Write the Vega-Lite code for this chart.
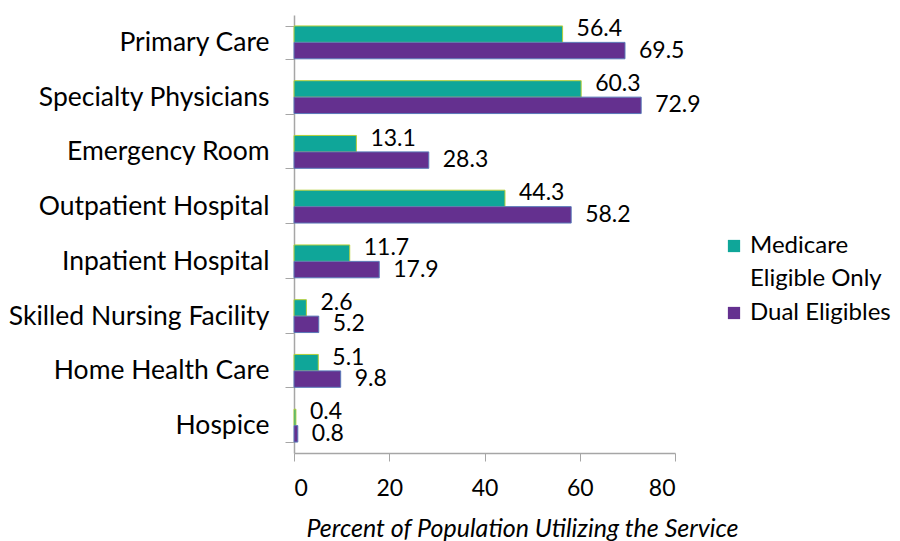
{
  "$schema": "https://vega.github.io/schema/vega-lite/v6.json",
  "autosize": {"type": "none"},
  "padding": {"left": 294, "top": 15, "right": 225, "bottom": 88},
  "width": 381,
  "height": 438,
  "background": "white",
  "config": {
    "view": {"stroke": null},
    "font": "Lato",
    "axis": {"grid": false, "domainColor": "#a6a6a6", "tickColor": "#a6a6a6", "labelColor": "#000000", "titleColor": "#000000", "labelFont": "Lato", "titleFont": "Lato"}
  },
  "data": {
    "values": [
      {"service": "Primary Care", "group": "Medicare Eligible Only", "value": 56.4},
      {"service": "Primary Care", "group": "Dual Eligibles", "value": 69.5},
      {"service": "Specialty Physicians", "group": "Medicare Eligible Only", "value": 60.3},
      {"service": "Specialty Physicians", "group": "Dual Eligibles", "value": 72.9},
      {"service": "Emergency Room", "group": "Medicare Eligible Only", "value": 13.1},
      {"service": "Emergency Room", "group": "Dual Eligibles", "value": 28.3},
      {"service": "Outpatient Hospital", "group": "Medicare Eligible Only", "value": 44.3},
      {"service": "Outpatient Hospital", "group": "Dual Eligibles", "value": 58.2},
      {"service": "Inpatient Hospital", "group": "Medicare Eligible Only", "value": 11.7},
      {"service": "Inpatient Hospital", "group": "Dual Eligibles", "value": 17.9},
      {"service": "Skilled Nursing Facility", "group": "Medicare Eligible Only", "value": 2.6},
      {"service": "Skilled Nursing Facility", "group": "Dual Eligibles", "value": 5.2},
      {"service": "Home Health Care", "group": "Medicare Eligible Only", "value": 5.1},
      {"service": "Home Health Care", "group": "Dual Eligibles", "value": 9.8},
      {"service": "Hospice", "group": "Medicare Eligible Only", "value": 0.4},
      {"service": "Hospice", "group": "Dual Eligibles", "value": 0.8}
    ]
  },
  "encoding": {
    "y": {
      "field": "service", "type": "nominal", "sort": null,
      "scale": {"paddingInner": 0.4, "paddingOuter": 0.2},
      "axis": {"title": null, "tickBand": "extent", "tickSize": 9, "labelPadding": 16, "labelFontSize": 26.5, "labelLimit": 300, "domainWidth": 1.5}
    },
    "yOffset": {"field": "group", "type": "nominal", "sort": ["Medicare Eligible Only", "Dual Eligibles"]},
    "x": {
      "field": "value", "type": "quantitative",
      "scale": {"domain": [0, 80], "nice": false},
      "axis": {"values": [0, 20, 40, 60, 80], "tickSize": 8, "labelPadding": 16, "labelFontSize": 23, "title": "Percent of Population Utilizing the Service", "titleFontSize": 25, "titleFontStyle": "italic", "titleFontWeight": "normal", "titlePadding": 16, "titleX": 228, "titleAlign": "center", "domainWidth": 1.5}
    }
  },
  "layer": [
    {
      "mark": {"type": "bar", "strokeWidth": 1},
      "encoding": {
        "color": {
          "field": "group", "type": "nominal",
          "scale": {"domain": ["Medicare Eligible Only", "Dual Eligibles"], "range": ["#0FA699", "#64308F"]},
          "legend": {
            "title": null, "orient": "none", "legendX": 428, "legendY": 219,
            "symbolType": "square", "symbolSize": 150, "symbolStrokeWidth": 0,
            "labelFontSize": 24, "labelLimit": 300, "labelOffset": 4, "rowPadding": 10,
            "labelExpr": "datum.label == 'Medicare Eligible Only' ? ['Medicare', 'Eligible Only'] : datum.label",
            "encode": {"labels": {"update": {"lineHeight": {"value": 33}}}}
          }
        },
        "stroke": {
          "field": "group", "type": "nominal",
          "scale": {"domain": ["Medicare Eligible Only", "Dual Eligibles"], "range": ["#B4CF3A", "#5A78B8"]},
          "legend": null
        }
      }
    },
    {
      "transform": [{"filter": "datum.group == 'Medicare Eligible Only'"}],
      "mark": {"type": "text", "align": "left", "dx": 14, "dy": -5, "fontSize": 23, "font": "Lato", "color": "#000000"},
      "encoding": {"text": {"field": "value", "type": "quantitative", "format": ".1f"}}
    },
    {
      "transform": [{"filter": "datum.group == 'Dual Eligibles'"}],
      "mark": {"type": "text", "align": "left", "dx": 14, "dy": 0, "fontSize": 23, "font": "Lato", "color": "#000000"},
      "encoding": {"text": {"field": "value", "type": "quantitative", "format": ".1f"}}
    }
  ]
}
